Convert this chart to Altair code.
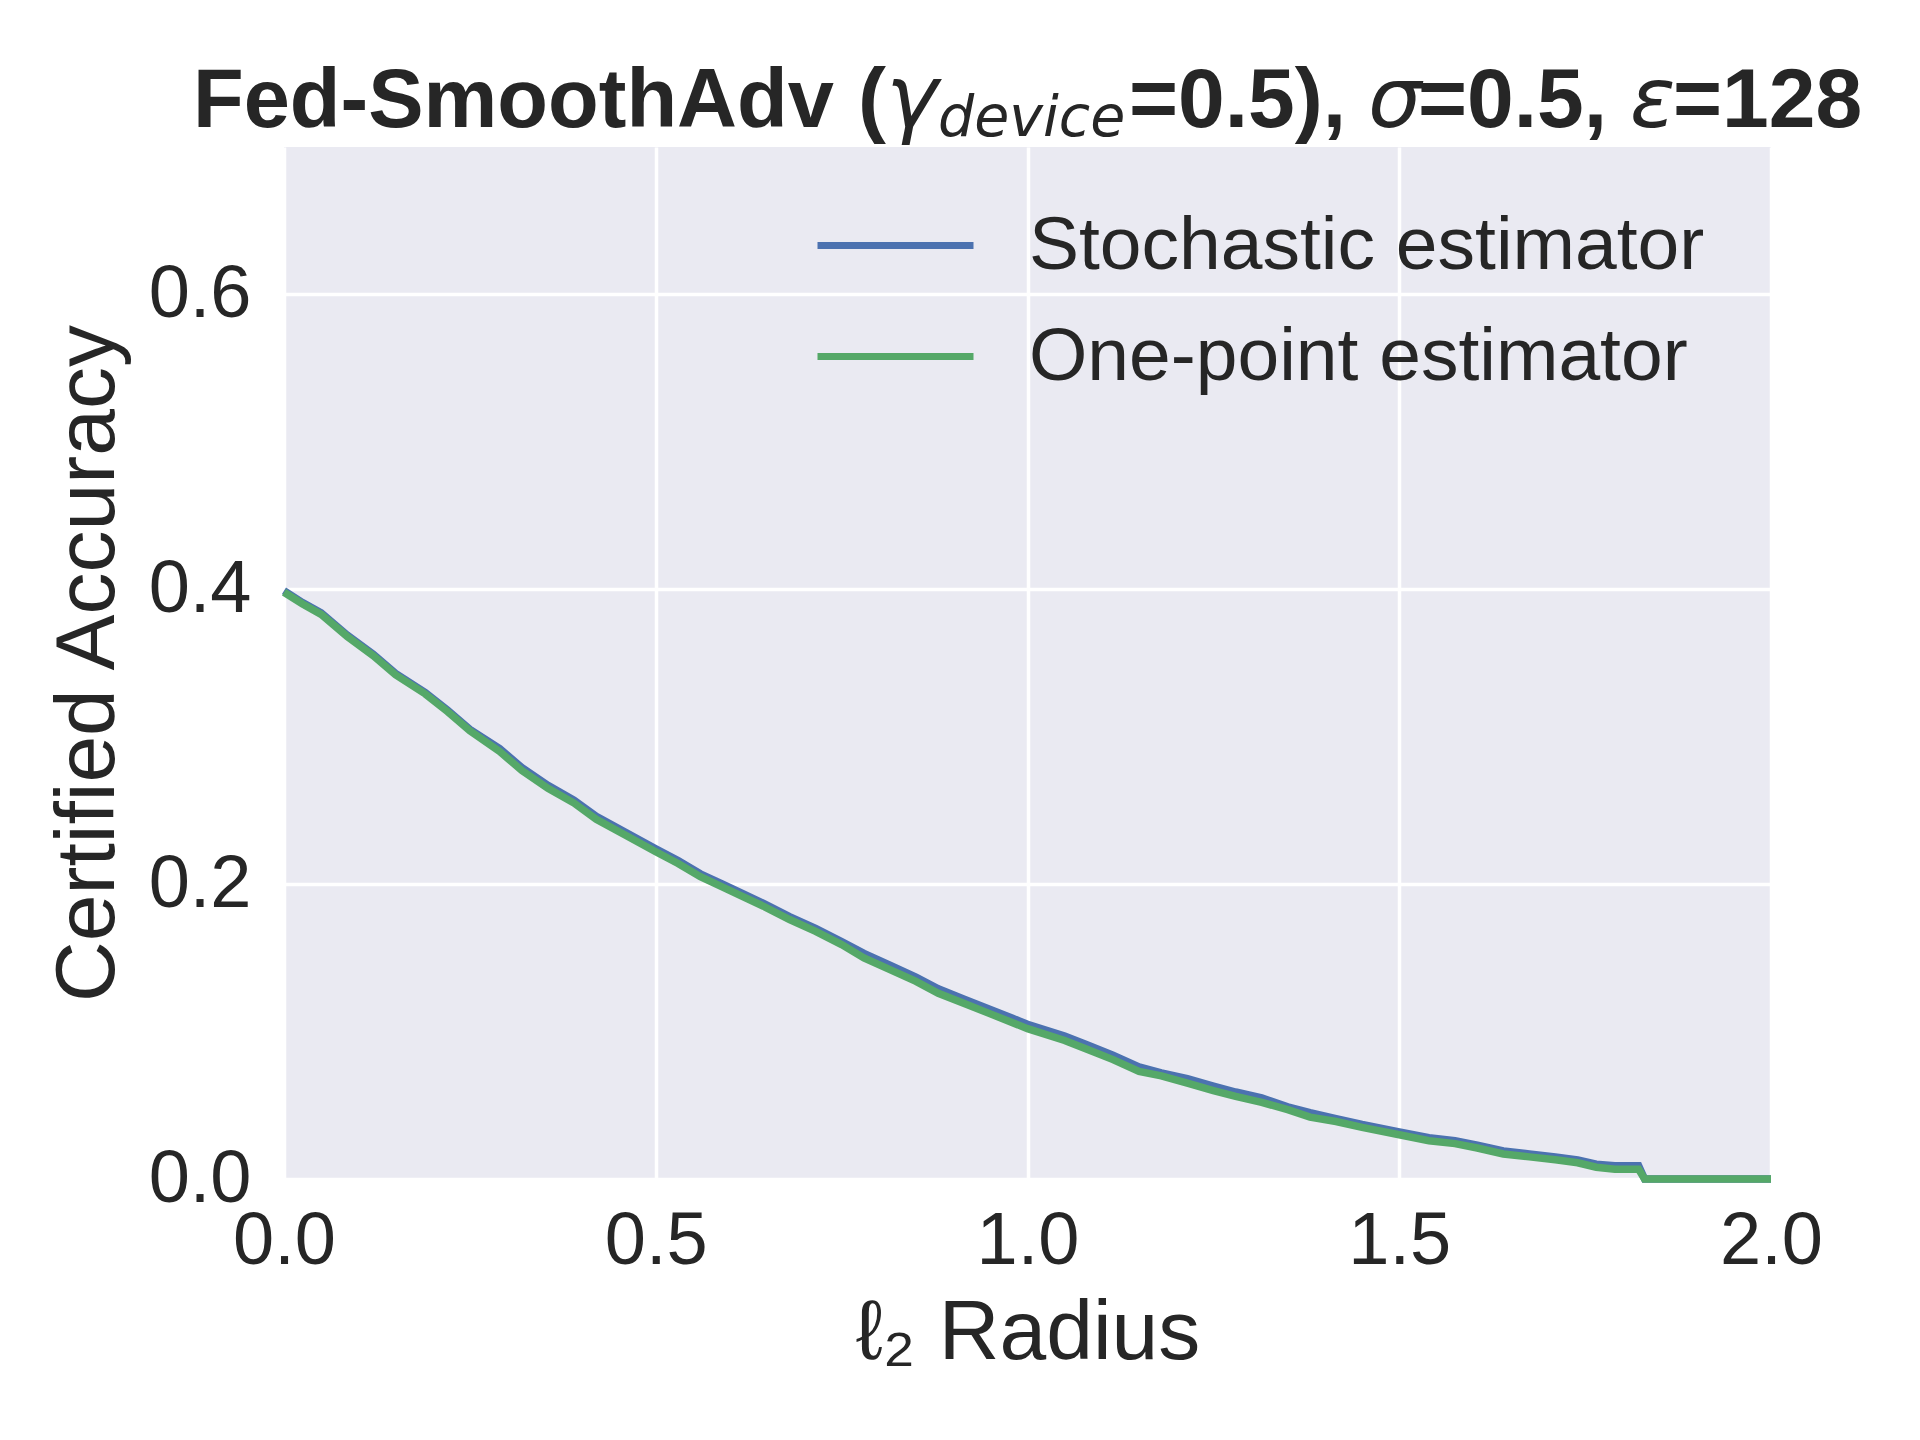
import altair as alt
import pandas as pd

# ---------------- data ----------------
series_names = ["Stochastic estimator", "One-point estimator"]
series_colors = ["#4C72B0", "#55A868"]

radius_stoch = [0.00, 0.025, 0.05, 0.085, 0.12, 0.15, 0.19, 0.22, 0.25, 0.29, 0.32, 0.355,
                0.39, 0.42, 0.46, 0.50, 0.53, 0.56, 0.59, 0.615, 0.645, 0.68, 0.715, 0.75,
                0.78, 0.815, 0.85, 0.88, 0.915, 0.95, 0.98, 1.00, 1.05, 1.08, 1.115, 1.15,
                1.18, 1.215, 1.25, 1.28, 1.315, 1.35, 1.38, 1.415, 1.45, 1.50, 1.54, 1.575,
                1.605, 1.64, 1.675, 1.71, 1.74, 1.765, 1.79, 1.822, 1.83, 2.00]
acc_stoch = [0.399, 0.391, 0.384, 0.369, 0.356, 0.343, 0.330, 0.318, 0.305, 0.292, 0.279, 0.267,
             0.257, 0.246, 0.235, 0.224, 0.216, 0.207, 0.200, 0.194, 0.187, 0.178, 0.170, 0.161,
             0.153, 0.145, 0.137, 0.129, 0.122, 0.115, 0.109, 0.105, 0.097, 0.091, 0.084, 0.076,
             0.072, 0.068, 0.063, 0.059, 0.055, 0.049, 0.045, 0.041, 0.037, 0.032, 0.028, 0.026,
             0.023, 0.019, 0.017, 0.015, 0.013, 0.010, 0.009, 0.009, 0.000, 0.000]

radius_one = [0.00, 0.025, 0.05, 0.085, 0.12, 0.15, 0.19, 0.22, 0.25, 0.29, 0.32, 0.355,
              0.39, 0.42, 0.46, 0.50, 0.53, 0.56, 0.59, 0.615, 0.645, 0.68, 0.715, 0.75,
              0.78, 0.815, 0.85, 0.88, 0.915, 0.95, 0.98, 1.00, 1.05, 1.08, 1.115, 1.15,
              1.18, 1.215, 1.25, 1.28, 1.315, 1.35, 1.38, 1.415, 1.45, 1.50, 1.54, 1.575,
              1.605, 1.64, 1.675, 1.71, 1.74, 1.765, 1.79, 1.822, 1.83, 2.00]
acc_one = [0.398, 0.390, 0.383, 0.368, 0.355, 0.342, 0.329, 0.317, 0.304, 0.290, 0.277, 0.265,
           0.255, 0.244, 0.233, 0.222, 0.214, 0.205, 0.198, 0.192, 0.185, 0.176, 0.168, 0.159,
           0.150, 0.142, 0.134, 0.126, 0.119, 0.112, 0.106, 0.102, 0.094, 0.088, 0.081, 0.073,
           0.070, 0.065, 0.060, 0.056, 0.052, 0.047, 0.042, 0.039, 0.035, 0.030, 0.026, 0.024,
           0.021, 0.017, 0.015, 0.013, 0.011, 0.008, 0.0066, 0.0066, 0.000, 0.000]

x_ticks = [0.0, 0.5, 1.0, 1.5, 2.0]
y_ticks = [0.0, 0.2, 0.4, 0.6]

title_bold_parts = ["Fed-SmoothAdv", "(", "=0.5),", "=0.5,", "=128"]
title_math_parts = ["γ", "σ", "ε"]
title_sub_part = "device"

# ---------------- layout ----------------
W, H = 1487, 1032
TEXT = "#262626"

df_s = pd.DataFrame({"r": radius_stoch, "a": acc_stoch, "s": series_names[0]})
df_o = pd.DataFrame({"r": radius_one, "a": acc_one, "s": series_names[1]})

color = alt.Color(
    "s:N",
    scale=alt.Scale(domain=series_names, range=series_colors),
    legend=alt.Legend(
        title=None, orient="none", legendX=569, legendY=56,
        symbolType="M-2,0H2", symbolSize=6084, symbolStrokeWidth=7,
        labelFontSize=75, labelFont="Liberation Sans", labelColor=TEXT,
        labelLimit=2000, labelOffset=91, rowPadding=30, padding=0,
    ),
)

xenc = alt.X("r:Q", scale=alt.Scale(domain=[0, 2], nice=False),
             axis=alt.Axis(values=x_ticks, format=".1f", title="ℓ₂ Radius",
                           labelPadding=26, labelFlush=False,
                           titleY=154, titleBaseline="middle"))
yenc = alt.Y("a:Q", scale=alt.Scale(domain=[0, 0.7], nice=False),
             axis=alt.Axis(values=y_ticks, format=".1f", title="Certified Accuracy",
                           labelPadding=33, titleX=-196, titleY=H / 2,
                           titleAngle=270, titleBaseline="middle", titleAlign="center"))

line_s = alt.Chart(df_s).mark_line(strokeWidth=7.5, clip=False).encode(
    x=xenc, y=yenc, color=color, order="r:Q")
line_o = alt.Chart(df_o).mark_line(strokeWidth=7.5, clip=False).encode(
    x="r:Q", y="a:Q", color=color, order="r:Q")

# title pieces (mixed bold / math italic)
def piece(txt, xpos, ypos, font, size, weight, style):
    return alt.Chart(pd.DataFrame({"t": [txt]})).mark_text(
        align="left", baseline="alphabetic", font=font, fontSize=size,
        fontWeight=weight, fontStyle=style, color=TEXT,
    ).encode(text="t:N", x=alt.value(xpos), y=alt.value(ypos))

PL = 284          # plot left in page pixels
base_y = -20
BS = 84
title_layers = [
    piece(title_bold_parts[0], 193 - PL, base_y, "Liberation Sans", 83, "bold", "normal"),
    piece(title_bold_parts[1], 858 - PL, base_y, "Liberation Sans", BS, "bold", "normal"),
    piece(title_math_parts[0], 886 - PL, base_y, "DejaVu Sans", 88, "normal", "italic"),
    piece(title_sub_part, 938 - PL, base_y + 9, "DejaVu Sans", 57, "normal", "italic"),
    piece(title_bold_parts[2], 1129 - PL, base_y, "Liberation Sans", BS, "bold", "normal"),
    piece(title_math_parts[1], 1368 - PL, base_y, "DejaVu Sans", 84, "normal", "italic"),
    piece(title_bold_parts[3], 1418 - PL, base_y, "Liberation Sans", BS, "bold", "normal"),
    piece(title_math_parts[2], 1630 - PL, base_y, "DejaVu Sans", 84, "normal", "italic"),
    piece(title_bold_parts[4], 1673 - PL, base_y, "Liberation Sans", BS, "bold", "normal"),
]

chart = alt.layer(line_s, line_o, *title_layers).properties(
    width=W, height=H,
    autosize=alt.AutoSizeParams(type="none"),
    padding={"left": 276, "top": 139, "right": 141, "bottom": 253},
    background="white",
).configure_view(
    fill="#EAEAF2", stroke=None,
).configure_axis(
    domain=False, ticks=False, grid=True, gridColor="white", gridWidth=3.5,
    labelFont="Liberation Sans", labelFontSize=74, labelColor=TEXT,
    titleFont="Liberation Sans", titleFontSize=84, titleColor=TEXT,
    titleFontWeight="normal",
)

chart.save("out.html", embed_options={"renderer": "svg", "actions": False})
